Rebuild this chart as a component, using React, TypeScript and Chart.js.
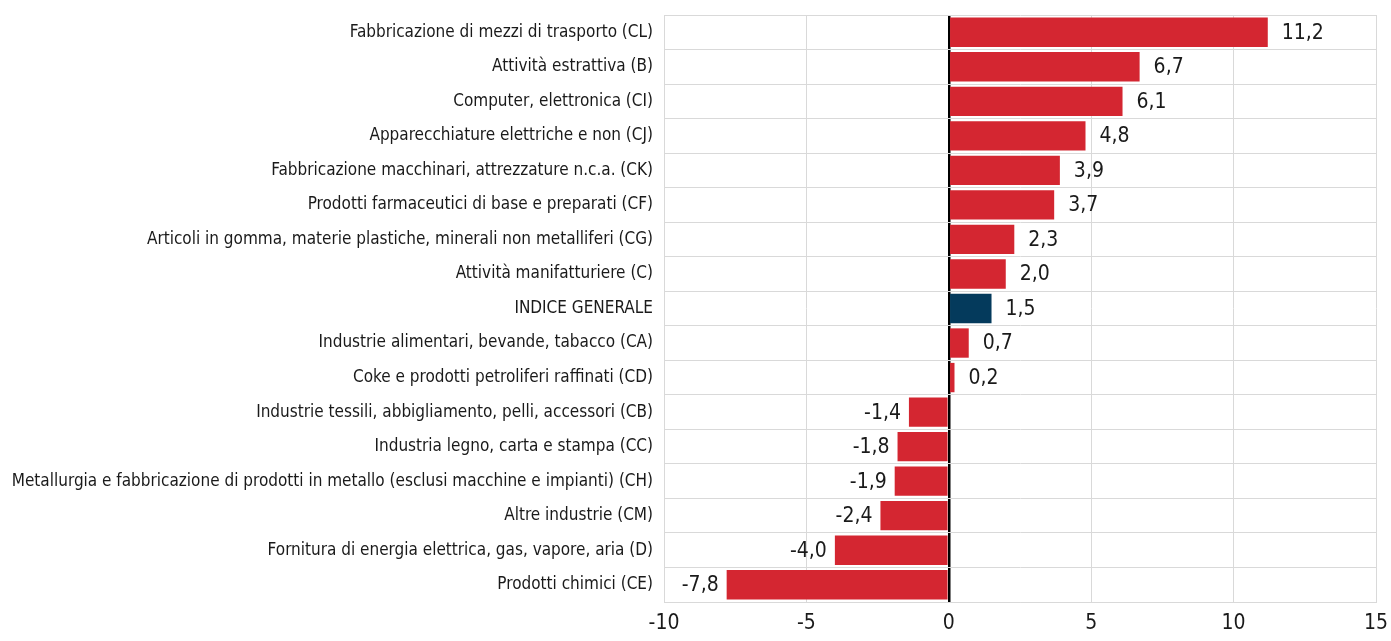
import React, { useEffect, useRef } from "react";
import { Chart, registerables } from "chart.js";

Chart.register(...registerables);

const categories = [
  "Fabbricazione di mezzi di trasporto (CL)",
  "Attività estrattiva (B)",
  "Computer, elettronica (CI)",
  "Apparecchiature elettriche e non (CJ)",
  "Fabbricazione macchinari, attrezzature n.c.a. (CK)",
  "Prodotti farmaceutici di base e preparati (CF)",
  "Articoli in gomma, materie plastiche, minerali non metalliferi (CG)",
  "Attività manifatturiere (C)",
  "INDICE GENERALE",
  "Industrie alimentari, bevande, tabacco (CA)",
  "Coke e prodotti petroliferi raffinati (CD)",
  "Industrie tessili, abbigliamento, pelli, accessori (CB)",
  "Industria legno, carta e stampa (CC)",
  "Metallurgia e fabbricazione di prodotti in metallo (esclusi macchine e impianti) (CH)",
  "Altre industrie (CM)",
  "Fornitura di energia elettrica, gas, vapore, aria (D)",
  "Prodotti chimici (CE)",
];

const values = [11.2, 6.7, 6.1, 4.8, 3.9, 3.7, 2.3, 2.0, 1.5, 0.7, 0.2, -1.4, -1.8, -1.9, -2.4, -4.0, -7.8];

const highlighted = ["INDICE GENERALE"];

const xMin = -10;
const xMax = 15;
const xStep = 5;

const RED = "#d42631";
const BLUE = "#043a5c";
const FONT = "'DejaVu Sans Condensed', 'Liberation Sans Narrow', sans-serif";

const valueLabels = {
  id: "valueLabels",
  afterDatasetsDraw(chart: any) {
    const ctx = chart.ctx;
    const meta = chart.getDatasetMeta(0);
    ctx.save();
    ctx.font = `21px ${FONT}`;
    ctx.fillStyle = "#1a1a1a";
    ctx.textBaseline = "middle";
    meta.data.forEach((bar: any, i: number) => {
      const v = values[i];
      const txt = v.toFixed(1).replace(".", ",");
      if (v >= 0) {
        ctx.textAlign = "left";
        ctx.fillText(txt, bar.x + 14, bar.y + 1);
      } else {
        ctx.textAlign = "right";
        ctx.fillText(txt, bar.x - 8, bar.y + 1);
      }
    });
    ctx.restore();
  },
};

export default function App() {
  const ref = useRef<HTMLCanvasElement>(null);
  useEffect(() => {
    document.body.style.margin = "0";
    const chart = new Chart(ref.current!, {
      type: "bar",
      data: {
        labels: categories,
        datasets: [
          {
            data: values,
            backgroundColor: categories.map((c) => (highlighted.includes(c) ? BLUE : RED)),
            barPercentage: 0.85,
            categoryPercentage: 1,
          },
        ],
      },
      options: {
        indexAxis: "y",
        animation: false,
        responsive: false,
        layout: { padding: { top: 15, right: 15, left: 0, bottom: 0 } },
        plugins: { legend: { display: false }, tooltip: { enabled: false } },
        scales: {
          x: {
            min: xMin,
            max: xMax,
            ticks: { stepSize: xStep, color: "#1a1a1a", font: { family: FONT, size: 21 }, padding: 9 },
            grid: {
              color: (c: any) => (c.tick && c.tick.value === 0 ? "#000000" : "#d9d9d9"),
              lineWidth: (c: any) => (c.tick && c.tick.value === 0 ? 2.5 : 1),
              drawTicks: false,
            },
            border: { color: "#d9d9d9" },
            afterFit: (s: any) => {
              s.height = 39;
              s.paddingLeft = 0;
              s.paddingRight = 0;
            },
          },
          y: {
            ticks: { color: "#1a1a1a", font: { family: FONT, size: 17 }, padding: 11, autoSkip: false },
            grid: { color: "#d9d9d9", offset: true, drawTicks: false },
            border: { color: "#d9d9d9" },
            afterFit: (s: any) => {
              s.width = 664;
              s.paddingTop = 0;
              s.paddingBottom = 0;
            },
          },
        },
      },
      plugins: [valueLabels],
    });
    return () => chart.destroy();
  }, []);
  return <canvas ref={ref} width={1391} height={641} style={{ display: "block" }} />;
}
